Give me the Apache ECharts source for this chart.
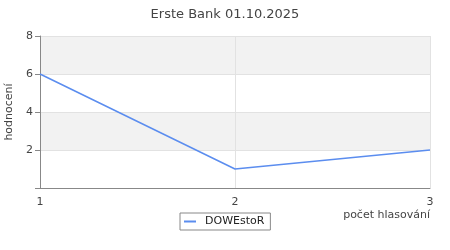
<!DOCTYPE html>
<html><head><meta charset="utf-8">
<script src="https://cdn.jsdelivr.net/npm/echarts@6/dist/echarts.min.js"></script>
<style>html,body{margin:0;padding:0;background:#fff}#c{width:450px;height:250px}</style>
</head><body><div id="c"></div>
<script>
const titleText = 'Erste Bank 01.10.2025';
const seriesName = 'DOWEstoR';
const xValues = [1, 2, 3];
const yValues = [6, 1, 2];
const xAxisName = 'počet hlasování';
const yAxisName = 'hodnocení';

const chart = echarts.init(document.getElementById('c'), null, {renderer: 'canvas'});
const font = 'DejaVu Sans';
chart.setOption({
  animation: false,
  backgroundColor: '#fff',
  title: {text: titleText, left: 'center', top: 3,
    textStyle: {fontFamily: font, fontSize: 13, fontWeight: 'normal', color: '#444'}},
  grid: {left: 40, right: 20, top: 36, bottom: 62, containLabel: false, outerBoundsMode: 'none'},
  legend: {data: [{name: seriesName, icon: 'rect'}], left: 180, top: 213,
    itemWidth: 12, itemHeight: 2, itemGap: 0,
    padding: [3, 6, 3, 4], borderColor: '#888', borderWidth: 1, borderRadius: 0,
    textStyle: {fontFamily: font, fontSize: 11, color: '#222', padding: [0, 0, 0, 4]}},
  xAxis: {type: 'value', min: 1, max: 3, interval: 1,
    name: xAxisName, nameLocation: 'end', nameGap: 0,
    nameTextStyle: {fontFamily: font, fontSize: 11, color: '#444', align: 'right', verticalAlign: 'top', padding: [22, 0, 0, 0]},
    axisLine: {show: true, lineStyle: {color: '#888'}},
    axisTick: {show: false},
    axisLabel: {fontFamily: font, fontSize: 11, color: '#444', margin: 9},
    splitLine: {show: true, lineStyle: {color: '#e2e2e2'}}},
  yAxis: {type: 'value', min: 0, max: 8, interval: 2,
    name: yAxisName, nameLocation: 'middle', nameGap: 22, nameRotate: 90,
    nameTextStyle: {fontFamily: font, fontSize: 11, color: '#444'},
    axisLine: {show: true, lineStyle: {color: '#888'}},
    axisTick: {show: true, length: 5, lineStyle: {color: '#888'}},
    axisLabel: {fontFamily: font, fontSize: 11, color: '#444', margin: 7,
      formatter: v => v === 0 ? '' : String(v)},
    splitLine: {show: true, lineStyle: {color: '#e2e2e2'}},
    splitArea: {show: true, areaStyle: {color: ['rgba(255,255,255,0)', '#f2f2f2']}}},
  series: [{name: seriesName, type: 'line', data: xValues.map((x, i) => [x, yValues[i]]),
    symbol: 'none', lineStyle: {color: '#5b8def', width: 1.5}, itemStyle: {color: '#5b8def'}}]
});
</script></body></html>
